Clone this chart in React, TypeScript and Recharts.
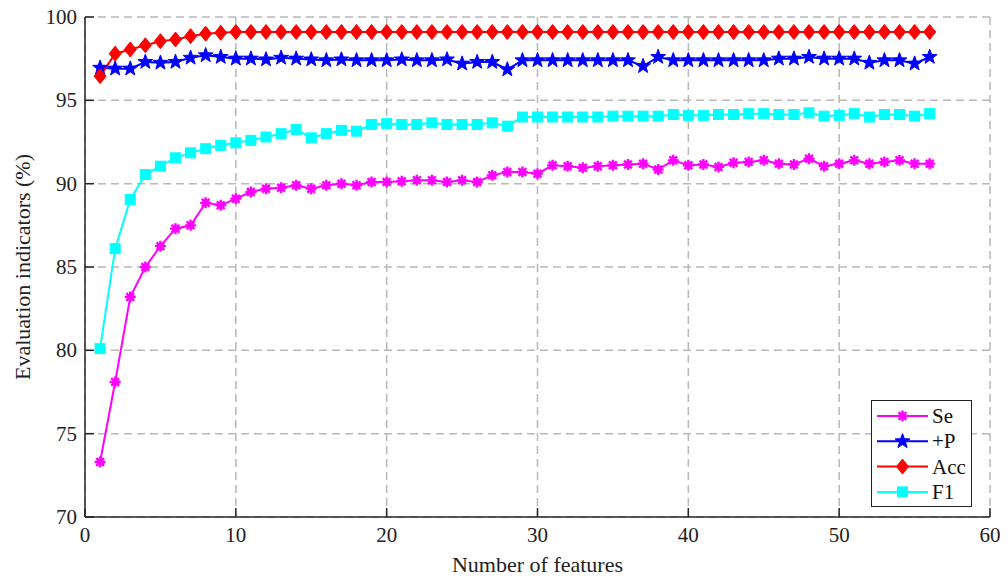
import React from "react";
import {
  LineChart,
  Line,
  XAxis,
  YAxis,
  CartesianGrid,
  Legend,
} from "recharts";

const features = [
  1, 2, 3, 4, 5, 6, 7, 8, 9, 10, 11, 12, 13, 14, 15, 16, 17, 18, 19, 20, 21, 22, 23, 24, 25, 26, 27, 28,
  29, 30, 31, 32, 33, 34, 35, 36, 37, 38, 39, 40, 41, 42, 43, 44, 45, 46, 47, 48, 49, 50, 51, 52, 53, 54, 55, 56,
];

const se = [
  73.3, 78.1, 83.2, 85.0, 86.25, 87.3, 87.5, 88.85, 88.7, 89.1,
  89.5, 89.7, 89.75, 89.9, 89.7, 89.9, 90.0, 89.9, 90.1, 90.1,
  90.15, 90.2, 90.2, 90.1, 90.2, 90.1, 90.5, 90.7, 90.7, 90.6,
  91.1, 91.05, 90.95, 91.05, 91.1, 91.15, 91.2, 90.85, 91.4, 91.1,
  91.15, 91.0, 91.25, 91.3, 91.4, 91.2, 91.15, 91.5, 91.05, 91.2,
  91.4, 91.2, 91.3, 91.4, 91.2, 91.2,
];

const plusP = [
  96.95, 96.9, 96.9, 97.3, 97.25, 97.3, 97.55, 97.7, 97.6, 97.5,
  97.5, 97.45, 97.55, 97.5, 97.45, 97.4, 97.45, 97.4, 97.4, 97.4,
  97.45, 97.4, 97.4, 97.45, 97.2, 97.3, 97.3, 96.85, 97.4, 97.4,
  97.4, 97.4, 97.4, 97.4, 97.4, 97.4, 97.05, 97.6, 97.4, 97.4,
  97.4, 97.4, 97.4, 97.4, 97.4, 97.5, 97.5, 97.6, 97.5, 97.5,
  97.5, 97.25, 97.4, 97.4, 97.2, 97.6,
];

const acc = [
  96.45, 97.8, 98.05, 98.3, 98.55, 98.65, 98.85, 99.0, 99.05, 99.1,
  99.1, 99.1, 99.1, 99.1, 99.1, 99.1, 99.1, 99.1, 99.1, 99.1,
  99.1, 99.1, 99.1, 99.1, 99.1, 99.1, 99.1, 99.1, 99.1, 99.1,
  99.1, 99.1, 99.1, 99.1, 99.1, 99.1, 99.1, 99.1, 99.1, 99.1,
  99.1, 99.1, 99.1, 99.1, 99.1, 99.1, 99.1, 99.1, 99.1, 99.1,
  99.1, 99.1, 99.1, 99.1, 99.1, 99.1,
];

const f1 = [
  80.1, 86.1, 89.05, 90.55, 91.05, 91.55, 91.85, 92.1, 92.3, 92.45,
  92.6, 92.8, 93.0, 93.25, 92.75, 93.0, 93.2, 93.15, 93.55, 93.6,
  93.55, 93.55, 93.65, 93.55, 93.55, 93.55, 93.65, 93.45, 94.0, 94.0,
  94.0, 94.0, 94.0, 94.0, 94.05, 94.05, 94.05, 94.05, 94.15, 94.1,
  94.1, 94.15, 94.15, 94.2, 94.2, 94.15, 94.15, 94.25, 94.05, 94.1,
  94.2, 94.0, 94.15, 94.15, 94.05, 94.2,
];

const xTicks = [0, 10, 20, 30, 40, 50, 60];
const yTicks = [70, 75, 80, 85, 90, 95, 100];

const data = features.map((n, i) => ({ n, se: se[i], p: plusP[i], acc: acc[i], f1: f1[i] }));

const FONT = "Liberation Serif, Times New Roman, DejaVu Serif, serif";
const AXIS = "#262626";
const TICK_LEN = 9;

// marker shapes
function asterisk(cx: number, cy: number, color: string) {
  const r = 5.5;
  const d = r * 0.707;
  return (
    <g>
      <circle cx={cx} cy={cy} r={3.5} fill={color} />
      <path
        d={`M${cx - r},${cy}L${cx + r},${cy}M${cx},${cy - r}L${cx},${cy + r}M${cx - d},${cy - d}L${cx + d},${cy + d}M${cx - d},${cy + d}L${cx + d},${cy - d}`}
        stroke={color}
        strokeWidth={2.4}
      />
    </g>
  );
}

function star(cx: number, cy: number, color: string) {
  const R = 7.8;
  const r = 3.2;
  let d = "";
  for (let k = 0; k < 10; k++) {
    const rad = k % 2 === 0 ? R : r;
    const a = -Math.PI / 2 + (k * Math.PI) / 5;
    d += (k === 0 ? "M" : "L") + (cx + rad * Math.cos(a)).toFixed(2) + "," + (cy + rad * Math.sin(a)).toFixed(2);
  }
  return <path d={d + "Z"} fill={color} stroke={color} strokeWidth={1} />;
}

function diamond(cx: number, cy: number, color: string) {
  return (
    <path
      d={`M${cx},${cy - 7.5}L${cx + 6},${cy}L${cx},${cy + 7.5}L${cx - 6},${cy}Z`}
      fill={color}
      stroke={color}
      strokeWidth={1}
    />
  );
}

function square(cx: number, cy: number, color: string) {
  return <rect x={cx - 5} y={cy - 5} width={10} height={10} fill={color} stroke={color} strokeWidth={1} />;
}

const SERIES = [
  { key: "se", name: "Se", color: "#ff00ff", marker: asterisk },
  { key: "p", name: "+P", color: "#0000ff", marker: star },
  { key: "acc", name: "Acc", color: "#ff0000", marker: diamond },
  { key: "f1", name: "F1", color: "#00ffff", marker: square },
];

const textStyle = { fontFamily: FONT, fontSize: 21, fill: "#222" };

function BottomTick(props: any) {
  const { x, y, payload } = props;
  return (
    <g>
      <line x1={x} y1={y} x2={x} y2={y - TICK_LEN} stroke={AXIS} strokeWidth={1.5} />
      <text x={x} y={y + 25} textAnchor="middle" style={textStyle}>
        {payload.value}
      </text>
    </g>
  );
}

function TopTick(props: any) {
  const { x, y } = props;
  return <line x1={x} y1={y} x2={x} y2={y + TICK_LEN} stroke={AXIS} strokeWidth={1.5} />;
}

function LeftTick(props: any) {
  const { x, y, payload } = props;
  return (
    <g>
      <line x1={x} y1={y} x2={x + TICK_LEN} y2={y} stroke={AXIS} strokeWidth={1.5} />
      <text x={x - 8} y={y + 7} textAnchor="end" style={textStyle}>
        {payload.value}
      </text>
    </g>
  );
}

function RightTick(props: any) {
  const { x, y } = props;
  return <line x1={x} y1={y} x2={x - TICK_LEN} y2={y} stroke={AXIS} strokeWidth={1.5} />;
}

function LegendBox() {
  return (
    <div
      style={{
        width: 101,
        height: 107,
        boxSizing: "border-box",
        border: "1.5px solid #222",
        background: "#fff",
      }}
    >
      <svg width={98} height={104}>
        {SERIES.map((s, i) => {
          const cy = 15 + i * 25.3;
          return (
            <g key={s.key}>
              <line x1={5} y1={cy} x2={56} y2={cy} stroke={s.color} strokeWidth={2} />
              {s.marker(30.5, cy, s.color)}
              <text x={60} y={cy + 7} style={{ fontFamily: FONT, fontSize: 21, fill: "#111" }}>
                {s.name}
              </text>
            </g>
          );
        })}
      </svg>
    </div>
  );
}

export default function App() {
  return (
    <div style={{ width: 1000, height: 579, position: "relative", marginTop: -8 }}>
      <LineChart
        width={1000}
        height={579}
        data={data}
        margin={{ top: 17, right: 18, left: 0, bottom: 0 }}
      >
        <CartesianGrid stroke="#b8b8b8" strokeWidth={1.5} strokeDasharray="8 5" />
        <XAxis
          dataKey="n"
          type="number"
          domain={[0, 60]}
          ticks={xTicks}
          height={62}
          tickSize={0}
          tickMargin={0}
          tickLine={false}
          tick={<BottomTick />}
          axisLine={{ stroke: AXIS, strokeWidth: 1.5 }}
          label={{
            value: "Number of features",
            position: "insideBottom",
            offset: 7,
            style: { fontFamily: FONT, fontSize: 22, fill: "#222" },
          }}
        />
        <XAxis
          xAxisId="top"
          orientation="top"
          dataKey="n"
          type="number"
          domain={[0, 60]}
          ticks={xTicks}
          height={0}
          tickSize={0}
          tickMargin={0}
          tickLine={false}
          tick={<TopTick />}
          axisLine={{ stroke: AXIS, strokeWidth: 1.5 }}
        />
        <YAxis
          type="number"
          domain={[70, 100]}
          ticks={yTicks}
          width={77}
          tickSize={0}
          tickMargin={0}
          tickLine={false}
          tick={<LeftTick />}
          axisLine={{ stroke: AXIS, strokeWidth: 1.5 }}
          label={{
            value: "Evaluation indicators (%)",
            angle: -90,
            position: "insideLeft",
            offset: 14,
            style: { fontFamily: FONT, fontSize: 22, fill: "#222", textAnchor: "middle" },
          }}
        />
        <YAxis
          yAxisId="r"
          orientation="right"
          type="number"
          domain={[70, 100]}
          ticks={yTicks}
          width={0}
          tickSize={0}
          tickMargin={0}
          tickLine={false}
          tick={<RightTick />}
          axisLine={{ stroke: AXIS, strokeWidth: 1.5 }}
        />
        {SERIES.map((s) => (
          <Line
            key={s.key}
            type="linear"
            dataKey={s.key}
            name={s.name}
            stroke={s.color}
            strokeWidth={2}
            isAnimationActive={false}
            dot={(p: any) => <g key={s.key + p.index}>{s.marker(p.cx, p.cy, s.color)}</g>}
            activeDot={false}
          />
        ))}
        <Legend
          layout="horizontal"
          verticalAlign="middle"
          content={() => <LegendBox />}
          wrapperStyle={{ left: 863, top: 400, width: 101, height: 107 }}
        />
      </LineChart>
    </div>
  );
}
